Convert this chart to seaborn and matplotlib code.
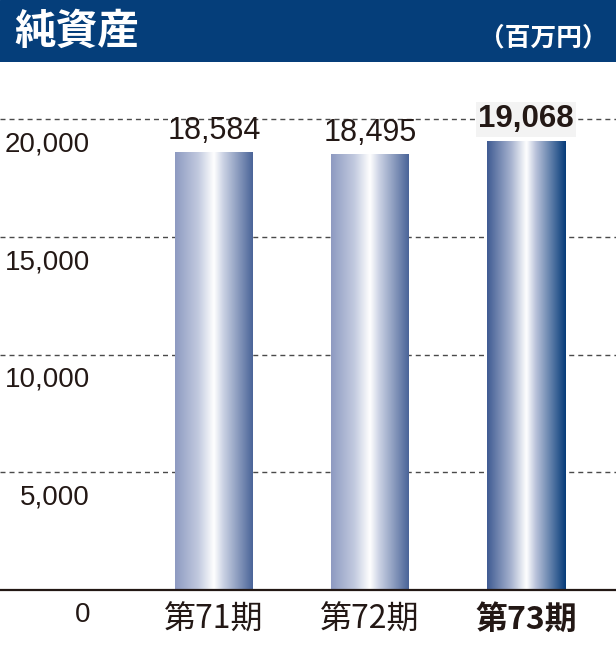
import numpy as np
import pandas as pd
import matplotlib
matplotlib.use('Agg')
import matplotlib.pyplot as plt
import matplotlib.transforms as mtransforms
from matplotlib.colors import LinearSegmentedColormap
from matplotlib.patches import Rectangle
import seaborn as sns

# data
periods = ['第71期', '第72期', '第73期']
net_assets = [18584, 18495, 19068]
y_ticks = [0, 5000, 10000, 15000, 20000]
y_tick_labels = ['0', '5,000', '10,000', '15,000', '20,000']
title = '純資産'
unit = '（百万円）'

navy = '#053E7A'
ink = '#231815'
num_font = ['Liberation Sans', 'DejaVu Sans']
jp_font = ['Noto Sans CJK JP', 'DejaVu Sans']

sns.set_style('white')
plt.rcParams['font.family'] = jp_font

W, H = 616, 649
fig = plt.figure(figsize=(W / 100, H / 100), dpi=100)

# header band
fig.add_artist(Rectangle((0, 1 - 62 / H), 1, 62 / H, transform=fig.transFigure,
                         color=navy, zorder=0))
fig.text(14 / W, 1 - 32 / H, title, color='white', fontsize=30, fontweight='bold',
         va='center', ha='left')
fig.text(608 / W, 1 - 38 / H, unit, color='white', fontsize=18.5, fontweight='bold',
         va='center', ha='right')

# axes: baseline at y=590 px, 20,000 grid at y~119 px
base_px, top_px, grid20_px = 590, 62, 119.4
ax = fig.add_axes([0, (H - base_px) / H, 1, (base_px - top_px) / H])
df = pd.DataFrame({'period': periods, 'value': net_assets})
sns.barplot(data=df, x='period', y='value', color='#8E9BC2', width=0.5, ax=ax,
            saturation=1, zorder=2)

# value labels
labels = ax.bar_label(ax.containers[0], labels=[f'{v:,}' for v in net_assets],
                      padding=5, color=ink, fontsize=22, family=num_font)
labels[-1].set_fontweight('bold')
labels[-1].set_fontsize(22.5)
labels[-1].set_bbox(dict(facecolor='#F3F3F3', edgecolor='none', pad=1.5))

# gradient fill on each bar
grad_light = LinearSegmentedColormap.from_list(
    'g1', [(0, '#8D9AC1'), (0.3, '#C2CADF'), (0.5, '#FFFFFF'), (0.62, '#CBD2E4'), (1, '#4A6498')])
grad_dark = LinearSegmentedColormap.from_list(
    'g2', [(0, '#3F5B92'), (0.3, '#A5B1CE'), (0.5, '#FFFFFF'), (0.62, '#B9C2DA'), (1, '#063B79')])
grad = np.linspace(0, 1, 256).reshape(1, -1)
for patch, cmap in zip(ax.patches, [grad_light, grad_light, grad_dark]):
    x0, y0 = patch.get_x(), patch.get_y()
    w, h = patch.get_width(), patch.get_height()
    ax.imshow(grad, cmap=cmap, extent=[x0, x0 + w, y0, y0 + h], aspect='auto',
              interpolation='bicubic', zorder=2)
    patch.set_visible(False)

# grid lines and baseline
for y in y_ticks[1:]:
    ax.axhline(y, color='#4A4A4A', lw=1.0, ls=(0, (3.6, 2.9)), zorder=1)
ax.axhline(0, color=ink, lw=1.6, zorder=4, clip_on=False)

ax.set_xlim(-214 / 156, (W - 214) / 156)
ax.set_ylim(0, 20000 * (base_px - top_px) / (base_px - grid20_px))
sns.despine(ax=ax, left=True, bottom=True)
ax.set_xlabel('')
ax.set_ylabel('')

# y labels sit just under their grid line, right aligned at x=90 px
ax.set_yticks([])
below = mtransforms.ScaledTranslation(0, -18 / 72, fig.dpi_scale_trans)
for y, lab in zip(y_ticks, y_tick_labels):
    ax.text(90 / W, y, lab, transform=ax.get_yaxis_transform() + below,
            ha='right', va='center', fontsize=20, color=ink, family=num_font)

# category labels
ax.tick_params(axis='x', length=0, pad=10, labelsize=23, labelcolor=ink)
ax.set_xticks(range(len(periods)))
ax.set_xticklabels(periods)
ax.get_xticklabels()[-1].set_fontweight('bold')

fig.savefig('out.png', dpi=100)
